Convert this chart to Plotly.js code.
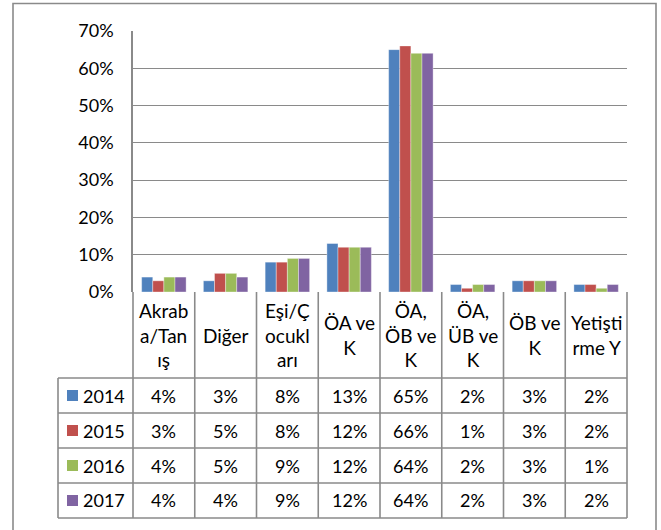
<!DOCTYPE html>
<html>
<head>
<meta charset="utf-8">
<script src="https://cdn.plot.ly/plotly-3.0.1.min.js"></script>
<style>html,body{margin:0;padding:0;background:#fff;}</style>
</head>
<body>
<div id="chart" style="width:661px;height:530px;"></div>
<script>
// ---- data ----
var categories = ["Akraba/Tanış", "Diğer", "Eşi/Çocukları", "ÖA ve K", "ÖA, ÖB ve K", "ÖA, ÜB ve K", "ÖB ve K", "Yetiştirme Y"];
var headerLabels = ["Akrab<br>a/Tan<br>ış", "Diğer", "Eşi/Ç<br>ocukl<br>arı", "ÖA ve<br>K", "ÖA,<br>ÖB ve<br>K", "ÖA,<br>ÜB ve<br>K", "ÖB ve<br>K", "Yetişti<br>rme Y"];
var years = ["2014", "2015", "2016", "2017"];
var v2014 = [4, 3, 8, 13, 65, 2, 3, 2];
var v2015 = [3, 5, 8, 12, 66, 1, 3, 2];
var v2016 = [4, 5, 9, 12, 64, 2, 3, 1];
var v2017 = [4, 4, 9, 12, 64, 2, 3, 2];
var yTickVals = [0, 10, 20, 30, 40, 50, 60, 70];
var yTickText = ["0%", "10%", "20%", "30%", "40%", "50%", "60%", "70%"];

var series = [v2014, v2015, v2016, v2017];
var colors = ["#4F81BD", "#C0504D", "#9BBB59", "#8064A2"];

var W = 661, H = 530;
var mL = 133, mR = 34, mT = 31, mB = 238;
var plotW = W - mL - mR, plotH = H - mT - mB;
function px(X) { return (X - mL) / plotW; }
function py(Y) { return (H - mB - Y) / plotH; }

var FONT = "Lato, 'Open Sans', sans-serif";
var gridCol = "#8a8a8a";

var traces = series.map(function (s, k) {
  return {
    type: "bar",
    name: years[k],
    x: categories,
    y: s,
    marker: { color: colors[k], line: { color: "rgba(255,255,255,0.6)", width: 0.6 } },
    hovertemplate: "%{x}: %{y}%<extra>" + years[k] + "</extra>"
  };
});

var shapes = [];
var annotations = [];
var headerCenter = 335;
var rowLines = [378, 413, 448, 483, 518];
var tableLeft = 58;
var tableRight = mL + plotW;

rowLines.forEach(function (Y) {
  shapes.push({ type: "line", xref: "paper", yref: "paper", x0: px(tableLeft), x1: px(tableRight), y0: py(Y), y1: py(Y), line: { color: gridCol, width: 1.6 } });
});
shapes.push({ type: "line", xref: "paper", yref: "paper", x0: px(tableLeft), x1: px(tableLeft), y0: py(rowLines[0]), y1: py(rowLines[4]), line: { color: gridCol, width: 1.6 } });
for (var k = 0; k <= categories.length; k++) {
  var xp = k / categories.length;
  shapes.push({ type: "line", xref: "paper", yref: "paper", x0: xp, x1: xp, y0: 0, y1: py(rowLines[4]), line: { color: gridCol, width: 1.6 } });
}

categories.forEach(function (c, i) {
  annotations.push({ xref: "x", yref: "paper", x: c, y: py(headerCenter), text: headerLabels[i], showarrow: false, xanchor: "center", yanchor: "middle", align: "center", font: { family: FONT, size: 19, color: "#000" } });
});

series.forEach(function (s, k) {
  var cy = (rowLines[k] + rowLines[k + 1]) / 2;
  shapes.push({ type: "rect", xref: "paper", yref: "paper", x0: px(67), x1: px(78), y0: py(cy + 5.5), y1: py(cy - 5.5), fillcolor: colors[k], line: { width: 0 } });
  annotations.push({ xref: "paper", yref: "paper", x: px(81), y: py(cy), text: years[k], showarrow: false, xanchor: "left", yanchor: "middle", font: { family: FONT, size: 18, color: "#000" } });
  s.forEach(function (v, i) {
    annotations.push({ xref: "x", yref: "paper", x: categories[i], y: py(cy), text: v + "%", showarrow: false, xanchor: "center", yanchor: "middle", font: { family: FONT, size: 18, color: "#000" } });
  });
});

shapes.push({ type: "rect", xref: "paper", yref: "paper", x0: px(13), x1: px(656), y0: py(540), y1: py(3.5), line: { color: "#8a8a8a", width: 1.6 }, fillcolor: "rgba(0,0,0,0)" });

var layout = {
  width: W, height: H,
  margin: { l: mL, r: mR, t: mT, b: mB, pad: 0 },
  paper_bgcolor: "#fff", plot_bgcolor: "#fff",
  barmode: "group", bargap: 0.28, bargroupgap: 0,
  showlegend: false,
  font: { family: FONT, size: 18, color: "#000" },
  xaxis: { type: "category", showticklabels: false, ticks: "", showgrid: false, zeroline: false, showline: false, range: [-0.5, 7.5], fixedrange: true },
  yaxis: { range: [0, 70], tickvals: yTickVals, ticktext: yTickText, ticks: "outside", ticklen: 14, tickcolor: "rgba(0,0,0,0)", showgrid: true, gridcolor: gridCol, gridwidth: 1, zeroline: false, showline: true, linecolor: gridCol, linewidth: 1.6, tickfont: { family: FONT, size: 18, color: "#000" }, fixedrange: true },
  shapes: shapes,
  annotations: annotations
};

Plotly.newPlot("chart", traces, layout, { displayModeBar: false });
</script>
</body>
</html>
